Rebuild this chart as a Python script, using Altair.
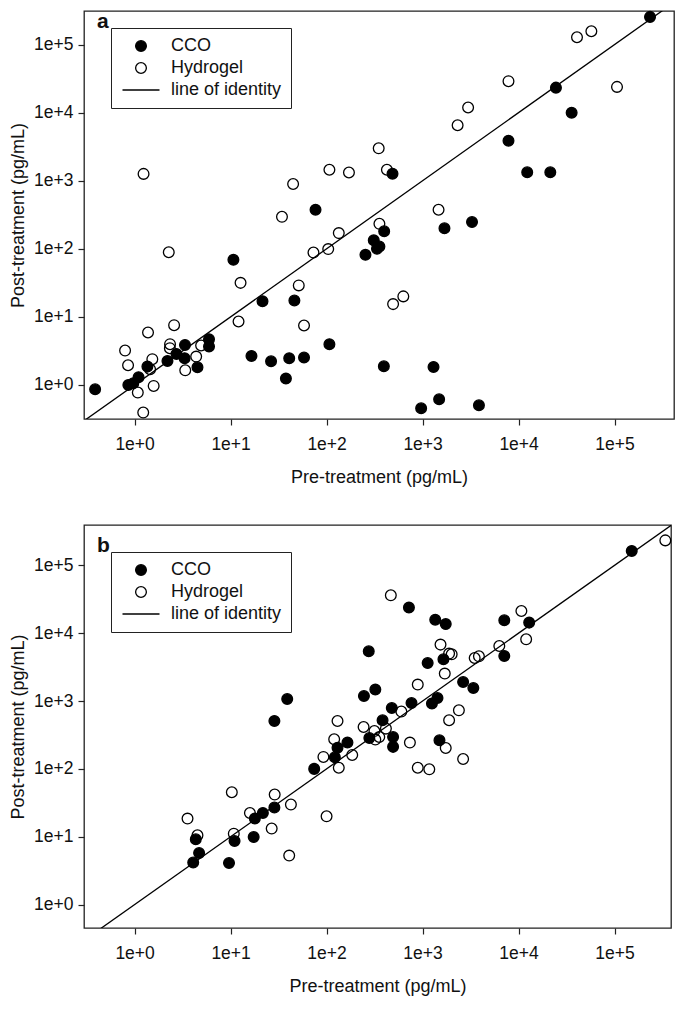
import altair as alt
import pandas as pd

FONT = "Liberation Sans"
groups = ["CCO", "Hydrogel", "line of identity"]
tick_values = [1, 10, 100, 1000, 10000, 100000]
identity = [1e-2, 1e7]

# ---- panel a ----
a_cco_pre = [0.388, 0.861, 0.97, 1.1, 1.36, 2.2, 2.73, 3.35, 3.32, 4.52, 5.96, 5.96,
             10.7, 16.5, 21.5, 26.4, 37.7, 40.8, 46.2, 58.2, 76.7, 107, 254, 310, 335,
             355, 398, 395, 486, 966, 1300, 1487, 1690, 3273, 3864, 7850, 12300, 21400,
             24500, 35700, 234000]
a_cco_post = [0.865, 1.0, 1.06, 1.3, 1.86, 2.25, 2.86, 3.87, 2.47, 1.82, 4.7, 3.67,
              68.9, 2.67, 17.0, 2.23, 1.24, 2.47, 17.4, 2.53, 375, 3.97, 81.6, 133, 100,
              108, 181, 1.88, 1270, 0.454, 1.84, 0.616, 200, 247, 0.503, 3870, 1330, 1330,
              23300, 10000, 255000]
a_hyd_pre = [0.796, 0.855, 1.08, 1.23, 1.24, 1.38, 1.53, 1.45, 1.58, 2.27, 2.34, 2.33,
             2.58, 3.37, 4.38, 4.93, 12.7, 12.1, 34.3, 44.8, 51.3, 58.2, 73, 104, 107,
             134, 171, 349, 355, 425, 493, 630, 1467, 2317, 2980, 7850, 40600, 57300,
             106000]
a_hyd_post = [3.2, 1.95, 0.773, 0.393, 1260, 5.89, 2.39, 1.70, 0.967, 89, 3.97, 3.47,
              7.55, 1.64, 2.61, 3.8, 31.6, 8.55, 295, 894, 29, 7.47, 88, 99, 1450,
              170, 1320, 2990, 233, 1450, 15.4, 20, 375, 6530, 11900, 29000, 128000,
              157000, 23900]

# ---- panel b ----
b_cco_pre = [4.08, 4.7, 4.34, 9.63, 11.0, 17.4, 17.9, 21.7, 28.6, 28.6, 38.9, 74.3,
             122, 130, 165, 245, 275, 279, 322, 383, 478, 493, 493, 721, 767, 1130,
             1252, 1355, 1430, 1500, 1650, 1743, 2645, 3380, 7100, 7100, 12900, 151000]
b_cco_post = [4.16, 5.75, 9.17, 4.1, 8.65, 9.9, 18.5, 22.4, 26.9, 508, 1071, 100,
              148, 205, 244, 1186, 5410, 285, 1473, 520, 789, 295, 211, 23800, 935, 3630,
              916, 15800, 1108, 264, 4120, 13600, 1907, 1555, 15500, 4610, 14300, 163000]
b_hyd_pre = [3.56, 4.52, 10.3, 10.8, 15.9, 26.8, 28.8, 42.5, 40.8, 100, 92.7, 120,
             130, 134, 185, 243, 315, 322, 354, 415, 467, 601, 738, 891, 891, 1175,
             1538, 1703, 1743, 1890, 2010, 1890, 2390, 2645, 3490, 3864, 6300, 10700,
             12000, 338000]
b_hyd_post = [18.5, 10.5, 45.2, 11.1, 22.4, 13.2, 41.8, 29.8, 5.27, 20.0, 150, 273,
              508, 104, 160, 414, 361, 270, 295, 392, 36100, 699, 244, 1746, 104, 98.6,
              6780, 2536, 203, 5000, 4880, 520, 730, 140, 4300, 4560, 6470, 21200,
              8120, 233000]


def make_df(hpre, hpost, cpre, cpost):
    h = pd.DataFrame({"pre": hpre, "post": hpost, "group": "Hydrogel"})
    c = pd.DataFrame({"pre": cpre, "post": cpost, "group": "CCO"})
    return pd.concat([h, c], ignore_index=True)


label_expr = "'1e+' + round(log(datum.value) / LN10)"
axis_common = dict(
    values=tick_values, labelExpr=label_expr, grid=False, domain=False,
    ticks=True, tickSize=6, tickColor="#222", tickWidth=1.2,
    labelFont=FONT, labelFontSize=17.5, labelColor="#111",
    titleFont=FONT, titleFontSize=18, titleFontWeight="normal", titleColor="#111",
)

LINE_SHAPE = "M-3.45,0L3.45,0"


def panel(df, letter, xdom, ydom, w, h, legend_y, letter_y):
    xs = alt.Scale(type="log", domain=xdom)
    ys = alt.Scale(type="log", domain=ydom)
    xa = alt.Axis(title="Pre-treatment (pg/mL)", labelPadding=10, titlePadding=16, **axis_common)
    ya = alt.Axis(title="Post-treatment (pg/mL)", labelPadding=5, titlePadding=6, **axis_common)
    legend = alt.Legend(
        title=None, orient="none", legendX=27, legendY=legend_y,
        strokeColor="#222", fillColor="white", padding=9,
        labelFont=FONT, labelFontSize=18, labelColor="#111",
        symbolOffset=12, labelOffset=21, rowPadding=4,
        symbolSize=115, symbolStrokeWidth=1.3,
    )
    pts = alt.Chart(df).mark_point(
        filled=False, size=115, strokeWidth=1.3, opacity=1, fillOpacity=1, strokeOpacity=1
    ).encode(
        x=alt.X("pre:Q", scale=xs, axis=xa),
        y=alt.Y("post:Q", scale=ys, axis=ya),
        fill=alt.Fill("group:N", scale=alt.Scale(domain=groups, range=["black", "transparent", "transparent"]), legend=legend),
        stroke=alt.Stroke("group:N", scale=alt.Scale(domain=groups, range=["black", "black", "black"]), legend=legend),
        shape=alt.Shape("group:N", scale=alt.Scale(domain=groups, range=["circle", "circle", LINE_SHAPE]), legend=legend),
    )
    line = alt.Chart(pd.DataFrame({"pre": identity, "post": identity})).mark_line(
        color="black", strokeWidth=1.3, clip=True
    ).encode(x=alt.X("pre:Q", scale=xs, axis=xa), y=alt.Y("post:Q", scale=ys, axis=ya))
    txt = alt.Chart(pd.DataFrame({"label": [letter]})).mark_text(
        font=FONT, fontSize=21, fontWeight="bold", align="left", baseline="top", color="#111"
    ).encode(text="label:N", x=alt.value(13), y=alt.value(letter_y))
    return alt.layer(pts, line, txt).properties(width=w, height=h)


pa = panel(make_df(a_hyd_pre, a_hyd_post, a_cco_pre, a_cco_post), "a",
           [10 ** -0.527, 10 ** 5.619], [10 ** -0.5, 10 ** 5.493], 590, 408, 17, 0)
pb = panel(make_df(b_hyd_pre, b_hyd_post, b_cco_pre, b_cco_post), "b",
           [10 ** -0.527, 10 ** 5.588], [10 ** -0.345, 10 ** 5.594], 587, 403, 27, 10)

chart = alt.vconcat(pa, pb, spacing=36).resolve_scale(
    x="independent", y="independent", fill="independent", stroke="independent",
    shape="independent"
).resolve_legend(
    fill="independent", stroke="independent", shape="independent"
).configure_view(
    stroke="#222", strokeWidth=1.3
).properties(padding={"left": 0, "top": 0, "right": 0, "bottom": 0})

chart.save("out.html", embed_options={"renderer": "svg", "actions": False})
